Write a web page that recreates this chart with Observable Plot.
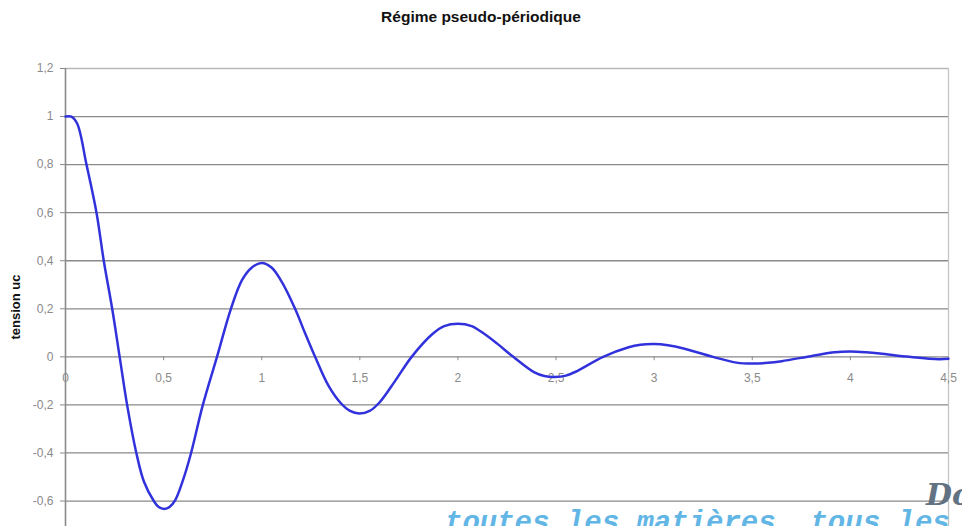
<!DOCTYPE html>
<html>
<head>
<meta charset="utf-8">
<script src="https://cdn.jsdelivr.net/npm/d3@7"></script>
<script src="https://cdn.jsdelivr.net/npm/@observablehq/plot@0.6"></script>
<style>
  html, body { margin: 0; padding: 0; background: #fff; }
  #wrap { position: relative; width: 962px; height: 526px; overflow: hidden; background: #fff; font-family: "Liberation Sans", Arial, sans-serif; }
  #chart { position: absolute; left: 0; top: 0; }
  #title { position: absolute; left: 0; top: 9px; width: 962px; text-align: center; font-weight: bold; font-size: 15.5px; line-height: 16px; color: #111; }
  #ylabel { position: absolute; left: 15px; top: 307px; transform: translate(-50%, -50%) rotate(-90deg); font-weight: bold; font-size: 13px; color: #111; white-space: nowrap; }
  #wm1 { position: absolute; left: 926px; top: 480px; font-family: "DejaVu Serif", serif; font-weight: bold; font-style: italic; font-size: 30px; line-height: 30px; color: #627282; white-space: nowrap; }
  #wm2 { position: absolute; left: 445px; top: 509px; font-family: "Liberation Mono", monospace; font-weight: bold; font-style: italic; font-size: 29px; line-height: 29px; color: #62b6e6; white-space: nowrap; }
</style>
</head>
<body>
<div id="wrap">
  <div id="chart"></div>
  <div id="title">Régime pseudo-périodique</div>
  <div id="ylabel">tension uc</div>
  <div id="wm1">Do</div>
  <div id="wm2">toutes les matières, tous les</div>
</div>
<script>
// Data
const tValues = [0, 0.03, 0.06, 0.107, 0.158, 0.195, 0.238, 0.276, 0.314, 0.361, 0.40, 0.45, 0.475, 0.504, 0.53, 0.56, 0.60, 0.64, 0.70, 0.772, 0.843, 0.9, 0.95, 1.0, 1.05, 1.1, 1.17, 1.22, 1.272, 1.34, 1.40, 1.45, 1.498, 1.55, 1.60, 1.68, 1.764, 1.87, 1.93, 2.0, 2.07, 2.13, 2.2, 2.282, 2.39, 2.44, 2.494, 2.55, 2.6, 2.74, 2.87, 2.93, 3.0, 3.07, 3.15, 3.3, 3.42, 3.5, 3.58, 3.65, 3.81, 3.92, 4.0, 4.08, 4.15, 4.3, 4.45, 4.5];
const uValues = [1, 1, 0.97, 0.8, 0.6, 0.4, 0.2, 0, -0.2, -0.4, -0.52, -0.60, -0.625, -0.633, -0.625, -0.595, -0.51, -0.4, -0.2, 0, 0.2, 0.32, 0.372, 0.391, 0.372, 0.315, 0.2, 0.1, 0, -0.12, -0.19, -0.225, -0.236, -0.225, -0.19, -0.1, 0, 0.095, 0.128, 0.138, 0.128, 0.098, 0.055, 0, -0.065, -0.08, -0.084, -0.078, -0.062, 0, 0.04, 0.05, 0.053, 0.048, 0.035, 0, -0.024, -0.028, -0.025, -0.018, 0.005, 0.019, 0.022, 0.019, 0.014, 0, -0.01, -0.008];

const xTicks = [0, 0.5, 1, 1.5, 2, 2.5, 3, 3.5, 4, 4.5];
const xTickLabels = ["0", "0,5", "1", "1,5", "2", "2,5", "3", "3,5", "4", "4,5"];
const yTicks = [-0.6, -0.4, -0.2, 0, 0.2, 0.4, 0.6, 0.8, 1, 1.2];
const yTickLabels = ["-0,6", "-0,4", "-0,2", "0", "0,2", "0,4", "0,6", "0,8", "1", "1,2"];

const points = tValues.map((t, i) => ({t, u: uValues[i]}));
const xTickData = xTicks.map((x, i) => ({x, label: xTickLabels[i]}));

const chart = Plot.plot({
  width: 962,
  height: 526,
  marginLeft: 65,
  marginRight: 14,
  marginTop: 68,
  marginBottom: 0,
  style: {fontFamily: "Liberation Sans, Arial, sans-serif", background: "transparent"},
  x: {domain: [0, 4.5], axis: null},
  y: {domain: [-0.706, 1.2], axis: null},
  marks: [
    Plot.ruleY(yTicks, {stroke: d => d === 1.2 ? "#b8b8b8" : "#8a8a8a", strokeWidth: 1.3}),
    Plot.ruleX([4.5], {stroke: "#c4c4c4", strokeWidth: 1.3}),
    Plot.axisY(yTicks, {
      tickSize: 5, tickPadding: 7,
      tickFormat: d => yTickLabels[yTicks.indexOf(d)],
      color: "#8a8a8a", fontSize: 12, label: null
    }),
    Plot.ruleX([0], {stroke: "#8a8a8a", strokeWidth: 1.6}),
    Plot.ruleX(xTicks, {y1: 0, y2: -0.016, stroke: "#8a8a8a"}),
    Plot.text(xTickData, {x: "x", y: () => 0, dy: 21, text: "label", fill: "#8a8a8a", fontSize: 12}),
    Plot.line(points, {x: "t", y: "u", curve: "catmull-rom", stroke: "#3232dc", strokeWidth: 2.5})
  ]
});
document.getElementById("chart").appendChild(chart);
</script>
</body>
</html>
